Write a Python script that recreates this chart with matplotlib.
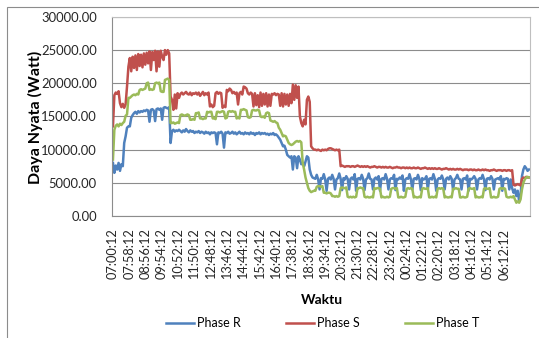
import numpy as np
import matplotlib.pyplot as plt
from matplotlib.patches import Rectangle
from matplotlib.ticker import FuncFormatter

plt.rcParams['font.family'] = ['Lato', 'DejaVu Sans']

# daya nyata per fasa (Watt), satu titik tiap 5 menit mulai 07:00:12
phase_r = [
    8000, 6500, 7600, 7000, 8000, 6800, 7800, 7500, 11000, 12000, 13300, 13500,
    13500, 14800, 15200, 15500, 15700, 15400, 15800, 15600, 15800, 15700, 15900, 15800,
    16000, 15900, 14200, 16000, 16100, 15900, 14300, 16100, 16200, 16000, 16200, 14500,
    16300, 16400, 16300, 16200, 16400, 11000, 12800, 13000, 12700, 12900, 12800, 13000,
    12800, 12600, 12900, 12700, 13100, 12800, 12600, 12900, 12700, 12800, 12500, 12700,
    12600, 12800, 12500, 12700, 12600, 12400, 12700, 12500, 12600, 12300, 12600, 12500,
    12600, 12500, 10800, 12600, 12500, 12700, 12400, 10300, 12600, 12500, 12700, 12400,
    12500, 12700, 12400, 12600, 12300, 12500, 12700, 12400, 12500, 12300, 12600, 12400,
    12500, 12300, 12600, 12400, 12500, 12200, 12500, 12400, 12600, 12300, 12500, 12400,
    12500, 12300, 12400, 12200, 12400, 12300, 12500, 12200, 12300, 12100, 11800, 11500,
    11000, 10500, 10600, 10000, 9200, 9000, 8800, 9000, 7000, 9000, 8800, 7200,
    9000, 8500, 7800, 8000, 7500, 8200, 9000, 8800, 7000, 6200, 5800, 5700,
    5600, 6200, 5500, 4000, 5700, 5600, 6300, 5500, 3800, 5600, 5800, 5500,
    6200, 5600, 4000, 5500, 5700, 6400, 5600, 3900, 5700, 5500, 6000, 5600,
    4000, 5600, 5800, 5500, 6300, 3800, 5600, 5700, 5500, 6200, 5600, 3900,
    5500, 5700, 6400, 5600, 5500, 4000, 5600, 5800, 5500, 6000, 3800, 5600,
    5700, 5500, 6300, 5600, 4000, 5500, 5700, 5600, 6200, 3900, 5600, 5500,
    5800, 5600, 6100, 3800, 5500, 5700, 5600, 6300, 5500, 4000, 5600, 5700,
    5500, 6200, 5600, 3900, 5700, 5500, 5600, 6000, 4000, 5600, 5700, 5500,
    6300, 5600, 3800, 5500, 5700, 5600, 6100, 5500, 4000, 5600, 5800, 5500,
    6000, 5600, 3900, 5500, 5700, 6200, 5600, 5500, 4000, 5600, 5700, 5500,
    6100, 3800, 5600, 5500, 5700, 6000, 5600, 4000, 5500, 5700, 5600, 6200,
    5500, 3900, 5600, 5700, 5500, 6000, 5600, 4000, 5500, 5600, 5700, 5500,
    6000, 3800, 5600, 5500, 5700, 5600, 4000, 5500, 4200, 3500, 4000, 3000,
    3800, 2200, 3000, 6000, 7000, 7500, 7200, 6800, 7000,
]
phase_s = [
    13500, 18200, 18600, 18400, 18800, 17000, 16400, 16900, 16300, 16800, 19500, 22500,
    23800, 21800, 24000, 22300, 24200, 22000, 24400, 22600, 24300, 22400, 24500, 22800,
    24600, 23000, 24800, 22000, 24700, 23500, 24900, 21800, 24800, 22500, 24900, 24000,
    23500, 25000, 24300, 25000, 24500, 18000, 17500, 16000, 18300, 16200, 18500, 17800,
    18400, 18600, 18300, 18500, 18700, 18400, 18300, 18600, 18200, 18500, 18400, 18600,
    18300, 18600, 18100, 18400, 18700, 18200, 18500, 18300, 18600, 16500, 16800, 16400,
    16600, 18500, 18700, 18400, 18600, 18500, 16300, 16600, 16400, 19000, 18800, 19200,
    19000, 18500, 18700, 18400, 18600, 16800, 18500, 18700, 18300, 19500, 19400, 19200,
    18500, 18300, 18600, 18400, 16500, 18500, 16700, 18200, 16400, 18600, 16600, 18400,
    16800, 18500, 16500, 18300, 16600, 18400, 18300, 18500, 18200, 18400, 18300, 16600,
    18500, 16500, 18400, 16800, 18300, 16600, 18400, 17000, 19800, 17500, 19700, 17800,
    19500, 15000, 14000, 13500, 14500, 13800, 17500, 18000, 17200, 10500, 10200, 10000,
    10000, 9900, 10000, 9900, 9800, 10000, 9900, 10000, 9900, 10100, 10200, 10200,
    10100, 10000, 9900, 10000, 9900, 10000, 7500, 7600, 7500, 7400, 7500, 7500,
    7500, 7400, 7500, 7500, 7400, 7500, 7600, 7500, 7400, 7500, 7400, 7500,
    7400, 7500, 7400, 7300, 7400, 7400, 7500, 7400, 7300, 7400, 7400, 7300,
    7400, 7300, 7400, 7300, 7300, 7400, 7300, 7200, 7300, 7300, 7400, 7300,
    7300, 7200, 7300, 7300, 7200, 7300, 7200, 7300, 7200, 7200, 7300, 7200,
    7200, 7300, 7200, 7100, 7200, 7200, 7300, 7200, 7100, 7200, 7100, 7200,
    7100, 7200, 7100, 7100, 7200, 7100, 7000, 7100, 7100, 7200, 7100, 7000,
    7100, 7000, 7100, 7000, 7000, 7100, 7000, 7100, 7000, 6900, 7000, 7000,
    7000, 6900, 7000, 7000, 6900, 7000, 6900, 6900, 7000, 6900, 6900, 7000,
    6900, 7000, 6900, 6900, 6800, 6900, 6900, 7000, 6900, 6800, 6900, 6900,
    6900, 6800, 6900, 6900, 6800, 6900, 6900, 6800, 6900, 4700, 4600, 4700,
    4800, 4700, 4600, 5600, 5800, 5700, 5900, 5800, 5800,
]
phase_t = [
    8500, 13000, 13600, 13800, 13500, 13900, 13700, 14000, 14200, 15100, 15300, 17800,
    17800, 18000, 18200, 18300, 18200, 18400, 18300, 19000, 19100, 19000, 19100, 19200,
    20000, 20100, 19000, 19100, 19000, 19100, 20000, 20100, 20000, 20100, 18800, 18700,
    18700, 20500, 20600, 20700, 20500, 14000, 14000, 14100, 13900, 14000, 14100, 14000,
    15200, 15300, 15200, 15100, 15200, 15300, 15200, 14500, 14500, 14600, 14500, 15500,
    15500, 15600, 14700, 14700, 14600, 14700, 14700, 15700, 15600, 15700, 15700, 14700,
    14700, 14600, 15700, 15700, 15600, 15700, 15800, 15700, 14700, 14800, 15700, 15800,
    15700, 15800, 15700, 15700, 14700, 14800, 14700, 16000, 16000, 16100, 16000, 15900,
    14900, 14800, 14900, 15900, 16000, 15900, 15900, 16000, 15900, 15000, 14900, 15000,
    14800, 15500, 15600, 15500, 14400, 14300, 14200, 14300, 14100, 14000, 13300, 13000,
    12500, 12000, 12100, 12000, 11500, 11000, 10800, 10700, 10800, 11000, 11200, 11300,
    11200, 11300, 11100, 8000, 7000, 5800, 5000, 4200, 3800, 3600, 3700, 3800,
    3800, 4400, 4500, 4500, 4400, 4500, 3500, 3500, 3400, 3500, 3500, 3400,
    3000, 3000, 2900, 3000, 2900, 3000, 4200, 4300, 4200, 4200, 4300, 2900,
    2800, 2900, 2800, 2900, 2800, 2900, 4200, 4200, 4300, 4200, 4200, 2900,
    2800, 2900, 2800, 2800, 2900, 2800, 4200, 4100, 4200, 4200, 4100, 2800,
    2900, 2800, 2800, 2900, 2800, 2900, 4100, 4200, 4200, 4100, 4200, 2800,
    2800, 2900, 2800, 2800, 2900, 4100, 4200, 4100, 4200, 4100, 2800, 2900,
    2800, 2800, 2900, 2800, 4100, 4200, 4100, 4100, 4200, 2800, 2800, 2900,
    2800, 2900, 2800, 4100, 4200, 4100, 4200, 4100, 2800, 2900, 2800, 2800,
    2900, 2800, 4100, 4100, 4200, 4100, 4100, 2800, 2800, 2900, 2800, 2800,
    2900, 4100, 4200, 4100, 4100, 4200, 2800, 2900, 2800, 2800, 2900, 2800,
    4100, 4200, 4100, 4100, 4200, 2800, 2800, 2900, 2800, 2800, 2900, 4100,
    4200, 4100, 4200, 4100, 2900, 2800, 2800, 2900, 2800, 3000, 2500, 2000,
    2200, 2000, 2500, 4000, 5000, 5500, 5800, 5900, 5800,
]
tick_labels = [
    '07:00:12', '07:58:12', '08:56:12', '09:54:12', '10:52:12', '11:50:12',
    '12:48:12', '13:46:12', '14:44:12', '15:42:12', '16:40:12', '17:38:12',
    '18:36:12', '19:34:12', '20:32:12', '21:30:12', '22:28:12', '23:26:12',
    '00:24:12', '01:22:12', '02:20:12', '03:18:12', '04:16:12', '05:14:12',
    '06:12:12',
]
step_min = 5
tick_step = 58

fig = plt.figure(figsize=(5.39, 3.38), dpi=100)
ax = fig.add_axes([0.208, 0.361, 0.775, 0.589])

x = np.arange(len(phase_r)) * step_min
ax.plot(x, phase_r, color='#4F81BD', lw=1.8, label='Phase R')
ax.plot(x, phase_s, color='#C0504D', lw=1.8, label='Phase S')
ax.plot(x, phase_t, color='#9BBB59', lw=1.8, label='Phase T')

ax.set_ylim(0, 30000)
ax.set_yticks(np.arange(0, 30001, 5000))
ax.yaxis.set_major_formatter(FuncFormatter(lambda v, p: f'{v:.2f}'))
ax.set_xlim(-3, x[-1] + 3)
ax.set_xticks(np.arange(len(tick_labels)) * tick_step)
ax.set_xticklabels(tick_labels, rotation=90)
ax.tick_params(axis='y', length=0, pad=11, labelsize=9.4, colors='#262626')
ax.tick_params(axis='x', length=0, pad=9, labelsize=9.2, colors='#262626')
ax.grid(axis='y', color='#8C8C8C', lw=0.8)
ax.set_axisbelow(True)
for s in ['left', 'bottom']:
    ax.spines[s].set_color('#8C8C8C')
for s in ['top', 'right']:
    ax.spines[s].set_color('#BFBFBF')

fig.text(0.065, 0.654, 'Daya Nyata (Watt)', rotation=90, ha='center', va='center',
         fontsize=11.5, fontweight='bold')
fig.text(0.597, 0.112, 'Waktu', ha='center', va='center', fontsize=10, fontweight='bold')

fig.legend(loc='center', bbox_to_anchor=(0.599, 0.044), ncol=3, frameon=False,
           fontsize=9, handlelength=2.2, columnspacing=3.6, handletextpad=0.3)

fig.patches.append(Rectangle((0.013, -0.1), 1.2, 1.079, transform=fig.transFigure,
                             fill=False, edgecolor='#8C8C8C', lw=0.8))

fig.savefig('out.png', dpi=100)
